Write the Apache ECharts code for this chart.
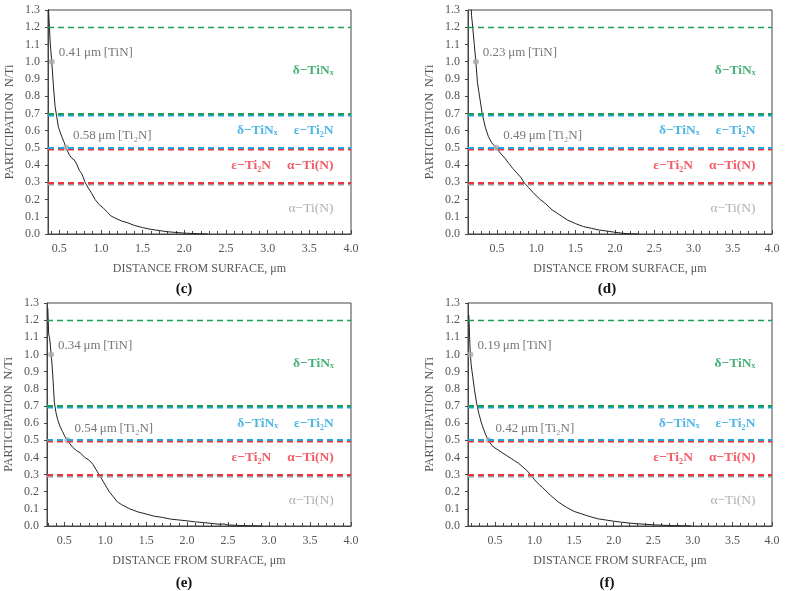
<!DOCTYPE html>
<html>
<head>
<meta charset="utf-8">
<script src="https://cdn.jsdelivr.net/npm/echarts@6/dist/echarts.min.js"></script>
<style>
  html, body { margin: 0; padding: 0; background: #fff; }
  #main { width: 786px; height: 591px; }
</style>
</head>
<body>
<div id="main"></div>
<script>
  // N/Ti ratio vs distance
  const cDist  = [0.366, 0.38, 0.39, 0.40, 0.41, 0.43, 0.45, 0.46, 0.47, 0.49, 0.53, 0.56, 0.58, 0.62, 0.65, 0.68, 0.71, 0.74, 0.77, 0.81, 0.85, 0.89, 0.93, 0.98, 1.03, 1.08, 1.12, 1.18, 1.25, 1.32, 1.40, 1.50, 1.60, 1.70, 1.80, 1.90, 2.00, 2.10, 2.20, 2.28];
  const cRatio = [1.35, 1.22, 1.12, 1.06, 1.00, 0.86, 0.74, 0.73, 0.68, 0.62, 0.565, 0.53, 0.50, 0.46, 0.44, 0.43, 0.405, 0.37, 0.35, 0.30, 0.265, 0.235, 0.20, 0.17, 0.15, 0.125, 0.105, 0.09, 0.075, 0.065, 0.05, 0.037, 0.027, 0.02, 0.013, 0.009, 0.005, 0.003, 0.001, 0.0];

  const dDist  = [0.165, 0.175, 0.19, 0.21, 0.23, 0.25, 0.27, 0.29, 0.31, 0.35, 0.39, 0.43, 0.47, 0.49, 0.55, 0.60, 0.65, 0.70, 0.75, 0.80, 0.85, 0.90, 0.97, 1.05, 1.12, 1.20, 1.30, 1.40, 1.50, 1.60, 1.70, 1.80, 1.90, 2.00, 2.10, 2.20, 2.30];
  const dRatio = [1.35, 1.27, 1.20, 1.10, 1.00, 0.88, 0.82, 0.76, 0.70, 0.62, 0.565, 0.53, 0.51, 0.50, 0.465, 0.44, 0.41, 0.38, 0.355, 0.33, 0.295, 0.27, 0.235, 0.20, 0.175, 0.14, 0.11, 0.08, 0.06, 0.043, 0.033, 0.023, 0.017, 0.01, 0.004, 0.001, 0.0];

  const eDist  = [0.30, 0.305, 0.31, 0.32, 0.33, 0.34, 0.35, 0.36, 0.37, 0.38, 0.40, 0.42, 0.45, 0.48, 0.51, 0.54, 0.60, 0.65, 0.70, 0.75, 0.80, 0.85, 0.90, 0.95, 1.00, 1.05, 1.10, 1.15, 1.20, 1.30, 1.40, 1.50, 1.60, 1.70, 1.80, 1.90, 2.00, 2.10, 2.20, 2.30, 2.40, 2.45, 2.50, 2.60, 2.70, 2.80, 2.92];
  const eRatio = [1.27, 1.20, 1.12, 1.10, 1.06, 1.00, 0.95, 0.88, 0.80, 0.72, 0.66, 0.62, 0.58, 0.55, 0.52, 0.50, 0.46, 0.44, 0.425, 0.40, 0.385, 0.36, 0.32, 0.28, 0.24, 0.20, 0.17, 0.14, 0.125, 0.10, 0.082, 0.07, 0.057, 0.05, 0.04, 0.035, 0.03, 0.024, 0.02, 0.015, 0.01, 0.012, 0.006, 0.004, 0.002, 0.001, 0.0];

  const fDist  = [0.17, 0.175, 0.18, 0.19, 0.20, 0.22, 0.24, 0.26, 0.28, 0.30, 0.33, 0.36, 0.39, 0.42, 0.46, 0.50, 0.55, 0.60, 0.65, 0.70, 0.75, 0.80, 0.85, 0.90, 0.95, 1.00, 1.05, 1.10, 1.20, 1.30, 1.40, 1.50, 1.60, 1.70, 1.80, 1.90, 2.00, 2.10, 2.20, 2.30, 2.40, 2.50, 2.60, 2.70, 2.80, 2.90, 2.98];
  const fRatio = [1.23, 1.18, 1.10, 1.00, 0.94, 0.87, 0.80, 0.74, 0.69, 0.65, 0.60, 0.56, 0.525, 0.50, 0.47, 0.455, 0.44, 0.425, 0.41, 0.395, 0.38, 0.365, 0.345, 0.325, 0.30, 0.27, 0.245, 0.225, 0.18, 0.14, 0.11, 0.085, 0.07, 0.055, 0.042, 0.035, 0.028, 0.022, 0.017, 0.013, 0.01, 0.007, 0.005, 0.003, 0.002, 0.001, 0.0];

  const panelNames = ['c', 'd', 'e', 'f'];
  const distances = [cDist, dDist, eDist, fDist];
  const ratios = [cRatio, dRatio, eRatio, fRatio];
  const distMin = [0.365, 0.13, 0.29, 0.16];
  const distMax = 4.0;
  const tinDepth = [0.41, 0.23, 0.34, 0.19];
  const ti2nDepth = [0.58, 0.49, 0.54, 0.42];

  // phase boundaries in N/Ti and the phase names between them
  const phaseBounds = [1.2, 0.7, 0.5, 0.3];
  const phaseNames = [['δ−TiNₓ'], ['δ−TiNₓ', 'ε−Ti₂N'], ['ε−Ti₂N', 'α−Ti(N)'], ['α−Ti(N)']];
  const phaseLabelDist = 3.79;

  const serif = "'Liberation Serif', 'DejaVu Serif', serif";
  const GREEN = '#1c9e55', BLUE = '#22a4df', RED = '#ee3340', GRAY = '#9b9b9b';

  const boxes = [
    { left: 48, top: 10, width: 303, height: 224 },
    { left: 468, top: 10, width: 304, height: 224 },
    { left: 47, top: 303, width: 304, height: 223 },
    { left: 468, top: 303, width: 304, height: 223 }
  ];
  const captionPos = [[179, 277], [602, 277], [179, 571], [602, 571]];

  let myChart = echarts.init(document.getElementById('main'));

  let grid = [], xAxis = [], yAxis = [], series = [], title = [];

  panelNames.forEach((p, i) => {
    grid.push(Object.assign({ show: true, borderColor: '#444', borderWidth: 1, containLabel: false }, boxes[i]));

    // no fixed interval: let the axis pick 0.5 steps, minor ticks every 0.1
    xAxis.push({
      gridIndex: i, type: 'value', min: distMin[i], max: distMax, splitNumber: 7,
      axisLine: { lineStyle: { color: '#444', width: 1 } },
      axisTick: { inside: true, length: 4, lineStyle: { color: '#444' } },
      minorTick: { show: true, splitNumber: 5, length: 3, lineStyle: { color: '#444' } },
      axisLabel: {
        showMinLabel: false, showMaxLabel: true,
        formatter: v => v.toFixed(1),
        color: '#555', fontFamily: serif, fontSize: 12, margin: 9
      },
      splitLine: { show: false },
      name: 'DISTANCE FROM SURFACE, μm', nameLocation: 'middle', nameGap: 29,
      nameTextStyle: { color: '#555', fontFamily: serif, fontSize: 12 }
    });

    yAxis.push({
      gridIndex: i, type: 'value', min: 0, max: 1.3, interval: 0.1,
      axisLine: { lineStyle: { color: '#444', width: 1 } },
      axisTick: { inside: false, length: 3, lineStyle: { color: '#444' } },
      axisLabel: { formatter: v => v.toFixed(1), color: '#555', fontFamily: serif, fontSize: 12, margin: 8 },
      splitLine: { show: false },
      name: 'PARTICIPATION  N/Ti', nameLocation: 'middle', nameGap: 32,
      nameTextStyle: { color: '#555', fontFamily: serif, fontSize: 12 }
    });

    // phase boundary lines, doubled with an offset shadow like the source
    series.push({
      type: 'line', xAxisIndex: i, yAxisIndex: i, data: [], silent: true, z: 1,
      markLine: {
        symbol: 'none', silent: true, label: { show: false },
        data: [
          { yAxis: phaseBounds[0], lineStyle: { color: GREEN, width: 1.3, type: [6, 4] } },
          { yAxis: phaseBounds[1], lineStyle: { color: GREEN, width: 1.8, type: [6, 4], shadowColor: BLUE, shadowOffsetY: 1.6, shadowBlur: 0 } },
          { yAxis: phaseBounds[2], lineStyle: { color: BLUE, width: 1.8, type: [6, 4], shadowColor: RED, shadowOffsetY: 1.6, shadowBlur: 0 } },
          { yAxis: phaseBounds[3], lineStyle: { color: RED, width: 1.8, type: [6, 4], shadowColor: GRAY, shadowOffsetY: 1.6, shadowBlur: 0 } }
        ]
      }
    });

    // profile
    series.push({
      type: 'line', xAxisIndex: i, yAxisIndex: i, z: 3,
      data: distances[i].map((d, k) => [d, ratios[i][k]]),
      symbol: 'none', lineStyle: { color: '#222', width: 1 }, clip: true
    });

    // TiN / Ti2N depth markers
    series.push({
      type: 'scatter', xAxisIndex: i, yAxisIndex: i, z: 4,
      symbolSize: 6, itemStyle: { color: '#aaa' },
      data: [
        { value: [tinDepth[i], 1.0], label: { formatter: tinDepth[i].toFixed(2) + '\u2009μm\u2009[TiN]', offset: [1, -9] } },
        { value: [ti2nDepth[i], 0.5], label: { formatter: ti2nDepth[i].toFixed(2) + '\u2009μm\u2009[Ti₂N]', offset: [1, -12] } }
      ],
      label: { show: true, position: 'right', distance: 3, color: '#555', fontFamily: serif, fontSize: 13 }
    });

    // phase names between boundaries
    const mids = phaseBounds.map((b, k) => k < phaseBounds.length - 1 ? (b + phaseBounds[k + 1]) / 2 : b / 2);
    const phaseColors = [GREEN, BLUE, RED, GRAY];
    series.push({
      type: 'scatter', xAxisIndex: i, yAxisIndex: i, z: 4, symbolSize: 0, silent: true,
      data: mids.map((m, k) => ({
        value: [phaseLabelDist, m],
        label: {
          formatter: phaseNames[k].map(n => '{t|' + n + '}').join('{g|}'),
          rich: {
            t: { color: phaseColors[k], fontFamily: serif, fontSize: 13.5, fontWeight: k === 3 ? 'normal' : 'bold' },
            g: { width: 16 }
          }
        }
      })),
      label: { show: true, position: 'left', distance: 0 }
    });

    title.push({
      text: '{p|(}{b|' + p + '}{p|)}',
      left: captionPos[i][0], top: captionPos[i][1], textAlign: 'center',
      textStyle: {
        rich: {
          p: { fontFamily: serif, fontSize: 15, color: '#111' },
          b: { fontFamily: serif, fontSize: 15, color: '#111', fontWeight: 'bold' }
        }
      }
    });
  });

  myChart.setOption({
    animation: false,
    backgroundColor: '#fff',
    title: title,
    grid: grid,
    xAxis: xAxis,
    yAxis: yAxis,
    series: series
  });
</script>
</body>
</html>
